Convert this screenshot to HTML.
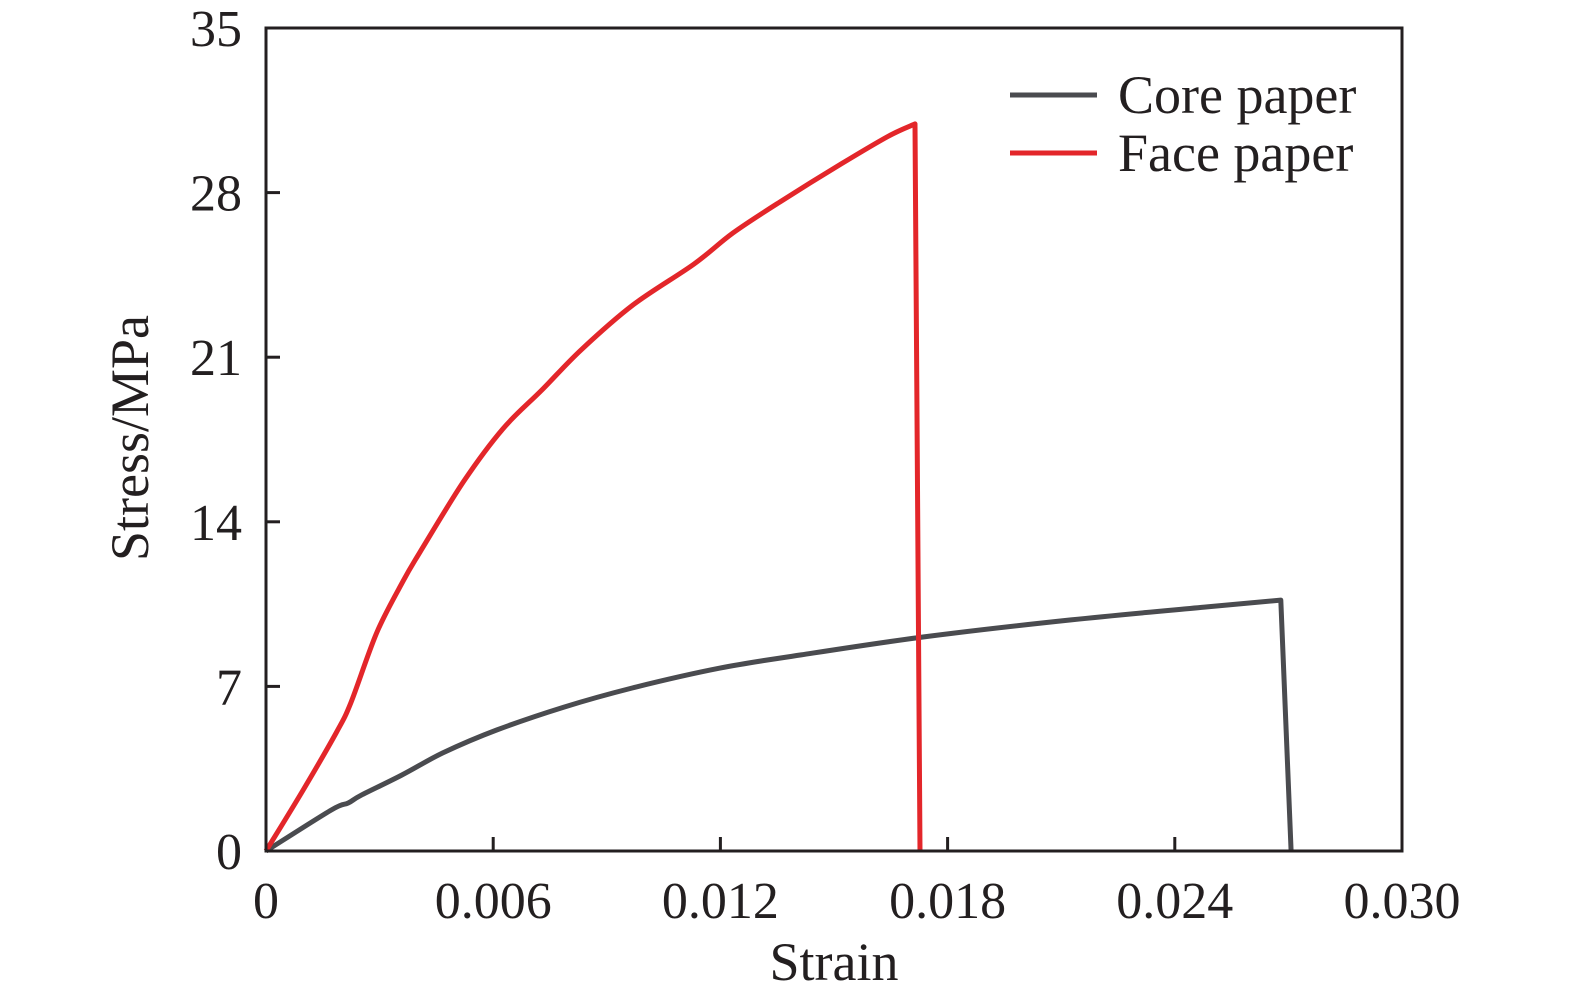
<!DOCTYPE html>
<html><head><meta charset="utf-8"><style>
html,body{margin:0;padding:0;background:#fff;overflow:hidden;width:1575px;height:1003px}
svg{display:block}
svg text{font-family:"Liberation Serif",serif;fill:#231f20}
</style></head><body>
<svg width="1575" height="1003" xmlns="http://www.w3.org/2000/svg">
<g id="plot"></g>
<text x="834" y="980" text-anchor="middle" font-size="54">Strain</text>
<text transform="translate(148,438) rotate(-90)" text-anchor="middle" font-size="54">Stress/MPa</text>
<g>
<line x1="1010" y1="95" x2="1097" y2="95" stroke="#4a4b4f" stroke-width="5"/>
<text x="1118" y="113" font-size="54">Core paper</text>
<line x1="1010" y1="153" x2="1097" y2="153" stroke="#e3262a" stroke-width="5"/>
<text x="1118" y="171" font-size="54">Face paper</text>
</g>
</svg>
<script>
const xTicks=[0,0.006,0.012,0.018,0.024,0.030];
const xTickLabels=["0","0.006","0.012","0.018","0.024","0.030"];
const yTicks=[0,7,14,21,28,35];
const yTickLabels=["0","7","14","21","28","35"];
const faceStrain=[0,0.00098,0.00185,0.00224,0.00293,0.00362,0.00407,0.00523,0.00626,0.00729,0.00832,0.00969,0.0113,0.01233,0.01357,0.01519,0.01645,0.01714,0.01727];
const faceStress=[0,2.59,5.02,6.3,9.3,11.48,12.72,15.74,17.96,19.61,21.31,23.22,24.96,26.28,27.6,29.22,30.41,30.92,0];
const coreStrain=[0,0.00172,0.00217,0.00251,0.00359,0.00467,0.0061,0.00787,0.00967,0.01199,0.01413,0.01735,0.02126,0.02485,0.0268,0.02707];
const coreStress=[0,1.74,2.04,2.37,3.23,4.17,5.15,6.12,6.93,7.78,8.34,9.1,9.83,10.38,10.67,0];
const L=266,R=1402,T=28,B=851;
const xs=v=>L+(v/0.030)*(R-L);
const ys=v=>B-(v/35)*(B-T);
const NS="http://www.w3.org/2000/svg";
const g=document.getElementById('plot');
function mk(t,a){const e=document.createElementNS(NS,t);for(const k in a)e.setAttribute(k,a[k]);g.appendChild(e);return e;}
function line(sx,sy,c,name){
  const p=sx.map((v,i)=>[xs(v),ys(sy[i])]);
  const n=p.length-1; // last point is the drop
  let d='M'+p[0][0].toFixed(1)+' '+p[0][1].toFixed(1);
  for(let i=0;i<n-1;i++){
    const p0=p[Math.max(i-1,0)],p1=p[i],p2=p[i+1],p3=p[Math.min(i+2,n-1)];
    const c1=[p1[0]+(p2[0]-p0[0])/6,p1[1]+(p2[1]-p0[1])/6];
    const c2=[p2[0]-(p3[0]-p1[0])/6,p2[1]-(p3[1]-p1[1])/6];
    d+=' C'+c1[0].toFixed(1)+' '+c1[1].toFixed(1)+' '+c2[0].toFixed(1)+' '+c2[1].toFixed(1)+' '+p2[0].toFixed(1)+' '+p2[1].toFixed(1);
  }
  d+=' L'+p[n][0].toFixed(1)+' '+p[n][1].toFixed(1);
  const e=mk('path',{d:d,fill:'none',stroke:c,'stroke-width':5,'stroke-linejoin':'round'});
  
  
}
line(coreStrain,coreStress,'#4a4b4f','core-paper-line');
line(faceStrain,faceStress,'#e3262a','face-paper-line');
const box=mk('rect',{x:L,y:T,width:R-L,height:B-T,fill:'none',stroke:'#231f20','stroke-width':3});


xTicks.forEach((v,i)=>{
  const x=xs(v);
  if(i>0&&i<xTicks.length-1){const t=mk('line',{x1:x,x2:x,y1:B,y2:B-14,stroke:'#231f20','stroke-width':3});
  
  }
  const tx=mk('text',{x:x,y:B+67,'text-anchor':'middle','font-size':52});tx.textContent=xTickLabels[i];
  
  
});
yTicks.forEach((v,i)=>{
  const y=ys(v);
  if(i>0&&i<yTicks.length-1){const t=mk('line',{x1:L,x2:L+14,y1:y,y2:y,stroke:'#231f20','stroke-width':3});
  
  }
  const tx=mk('text',{x:L-24,y:y+18,'text-anchor':'end','font-size':52});tx.textContent=yTickLabels[i];
  
  
});
</script>
</body></html>
